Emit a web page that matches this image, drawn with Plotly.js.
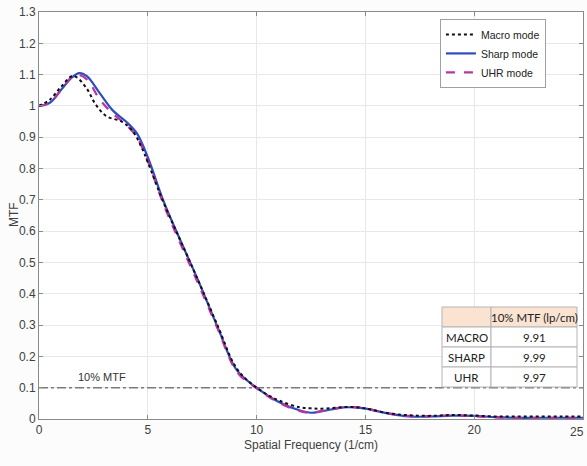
<!DOCTYPE html>
<html>
<head>
<meta charset="utf-8">
<script src="https://cdn.plot.ly/plotly-3.0.1.min.js"></script>
<style>html,body{margin:0;padding:0;background:#fcfcfc;}#chart{width:587px;height:466px;}</style>
</head>
<body>
<div id="chart"></div>
<script>
// Spatial frequency (1/cm) and MTF values
const macroX = [0, 0.5, 1.0, 1.5, 1.7, 2.2, 2.6, 3.1, 3.8, 4.3, 4.7, 5.0, 5.7, 6.5, 7.3, 8.2, 9.1, 10, 11, 12, 12.5, 13, 14, 14.5, 15, 16, 17, 18, 19, 20, 21, 22, 23, 24, 25];
const macroY = [1.0, 1.02, 1.06, 1.095, 1.093, 1.055, 1.005, 0.967, 0.95, 0.92, 0.87, 0.82, 0.695, 0.57, 0.445, 0.3, 0.16, 0.1, 0.06, 0.037, 0.034, 0.033, 0.038, 0.038, 0.034, 0.019, 0.012, 0.01, 0.013, 0.011, 0.008, 0.008, 0.008, 0.008, 0.008];
const sharpX = [0, 0.5, 1.0, 1.5, 1.85, 2.2, 2.8, 3.4, 4.0, 4.5, 5.0, 5.7, 6.5, 7.3, 8.2, 9.1, 10, 11, 12, 12.5, 13, 14, 14.5, 15, 16, 17, 18, 19, 20, 21, 22, 23, 24, 25];
const sharpY = [1.0, 1.01, 1.05, 1.09, 1.105, 1.095, 1.04, 0.985, 0.95, 0.912, 0.836, 0.70, 0.57, 0.445, 0.295, 0.155, 0.1, 0.055, 0.027, 0.02, 0.025, 0.037, 0.037, 0.033, 0.018, 0.008, 0.008, 0.011, 0.01, 0.006, 0.004, 0.004, 0.004, 0.004, 0.004];
const uhrX = [0, 0.5, 1.0, 1.5, 1.75, 2.2, 2.8, 3.4, 4.0, 4.5, 5.0, 5.7, 6.5, 7.3, 8.2, 9.1, 10, 11, 12, 12.5, 13, 14, 14.5, 15, 16, 17, 18, 19, 20, 21, 22, 23, 24, 25];
const uhrY = [1.0, 1.01, 1.05, 1.092, 1.1, 1.085, 1.02, 0.975, 0.94, 0.9, 0.825, 0.69, 0.56, 0.435, 0.29, 0.15, 0.098, 0.053, 0.025, 0.02, 0.025, 0.037, 0.038, 0.034, 0.019, 0.01, 0.009, 0.012, 0.009, 0.005, 0.004, 0.004, 0.004, 0.004, 0.004];
const seriesNames = ["Macro mode", "Sharp mode", "UHR mode"];
const refLevel = 0.1;
const refLabel = "10% MTF";
const tableHeader = ["", "10% MTF (lp/cm)"];
const tableModes = ["MACRO", "SHARP", "UHR"];
const tableValues = ["9.91", "9.99", "9.97"];
const xTicks = [0, 5, 10, 15, 20, 25];
const yTicks = [0, 0.1, 0.2, 0.3, 0.4, 0.5, 0.6, 0.7, 0.8, 0.9, 1, 1.1, 1.2, 1.3];

const FONT = "Liberation Sans, Arial, sans-serif";
const TFONT = "Lato, Liberation Sans, sans-serif";

// plot-area geometry (pixels)
const W = 587, H = 466, ML = 39, MR = 4, MT = 12, MB = 47;
const PW = W - ML - MR, PH = H - MT - MB;
const px = v => (v - ML) / PW;          // pixel x -> paper
const py = v => (H - MB - v) / PH;      // pixel y -> paper

// table layout (pixels)
const tCols = [442, 491, 577];
const tRows = [307, 327, 347, 367, 387];

const shapes = [];
const annotations = [];
for (let r = 0; r < tRows.length - 1; r++) {
  for (let c = 0; c < tCols.length - 1; c++) {
    shapes.push({type: "rect", xref: "paper", yref: "paper", layer: "above",
      x0: px(tCols[c]), x1: px(tCols[c + 1]), y0: py(tRows[r + 1]), y1: py(tRows[r]),
      fillcolor: r === 0 ? "#fbe3d2" : "#ffffff", line: {color: "#b4b4b4", width: 1}});
    const txt = r === 0 ? tableHeader[c] : (c === 0 ? tableModes[r - 1] : tableValues[r - 1]);
    if (txt) annotations.push({xref: "paper", yref: "paper", showarrow: false,
      x: px((tCols[c] + tCols[c + 1]) / 2), y: py((tRows[r] + tRows[r + 1]) / 2),
      xanchor: "center", yanchor: "middle", text: txt,
      font: {family: TFONT, size: 11.5, color: "#222"}});
  }
}
annotations.push({x: 2.9, y: 0.135, xref: "x", yref: "y", text: refLabel, showarrow: false,
  font: {family: FONT, size: 11, color: "#333"}});
annotations.push({xref: "paper", yref: "paper", x: px(14), y: py(215), textangle: -90,
  xanchor: "center", yanchor: "middle", showarrow: false, text: "MTF",
  font: {family: FONT, size: 12, color: "#404040"}});
// last x tick label, kept fully inside the picture
annotations.push({xref: "paper", yref: "paper", x: px(W - 1), y: py(423), xanchor: "right", yanchor: "top",
  showarrow: false, text: String(xTicks[xTicks.length - 1]),
  font: {family: FONT, size: 12, color: "#404040"}});

const traces = [
  {x: [0, 25], y: [refLevel, refLevel], mode: "lines", showlegend: false, hoverinfo: "skip",
   line: {color: "#7a7a7a", width: 1.6, dash: "dashdot"}},
  {x: sharpX, y: sharpY, name: seriesNames[1], mode: "lines", line: {color: "#2f4cc0", width: 2.2, shape: "spline"}, legendrank: 2},
  {x: uhrX, y: uhrY, name: seriesNames[2], mode: "lines", line: {color: "#b8349e", width: 2.2, dash: "dash", shape: "spline"}, legendrank: 3},
  {x: macroX, y: macroY, name: seriesNames[0], mode: "lines", line: {color: "#111111", width: 2, dash: "dot", shape: "spline"}, legendrank: 1}
];

const axisCommon = {
  showgrid: true, gridcolor: "#e8e8e8", gridwidth: 1, zeroline: false,
  showline: true, linecolor: "#8a8a8a", linewidth: 1, mirror: "ticks",
  ticks: "inside", ticklen: 4, tickcolor: "#8a8a8a",
  tickfont: {family: FONT, size: 12, color: "#404040"}
};

const layout = {
  width: W, height: H,
  margin: {l: ML, r: MR, t: MT, b: MB},
  paper_bgcolor: "#fcfcfc", plot_bgcolor: "#ffffff",
  showlegend: true,
  legend: {x: 0.737, y: 0.983, xanchor: "left", yanchor: "top", bgcolor: "#ffffff",
           bordercolor: "#a0a0a0", borderwidth: 1, tracegroupgap: 0,
           font: {family: FONT, size: 10.5, color: "#222"}, itemwidth: 30},
  xaxis: Object.assign({}, axisCommon, {range: [0, 25], tickvals: xTicks,
           ticktext: xTicks.map((v, i) => i === xTicks.length - 1 ? "" : String(v)), automargin: false,
           title: {text: "Spatial Frequency (1/cm)", standoff: 4, font: {family: FONT, size: 12, color: "#404040"}}}),
  yaxis: Object.assign({}, axisCommon, {range: [0, 1.3], tickvals: yTicks, ticktext: yTicks.map(v => String(v)), automargin: false}),
  shapes: shapes,
  annotations: annotations
};

Plotly.newPlot("chart", traces, layout, {displayModeBar: false, staticPlot: true});
</script>
</body>
</html>
